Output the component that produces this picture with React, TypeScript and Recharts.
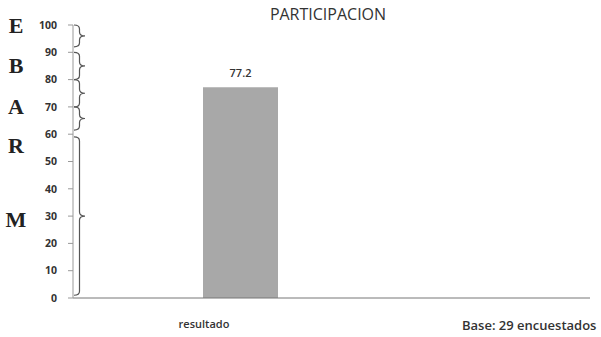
import React from "react";
import { BarChart, Bar, XAxis, YAxis, LabelList, ReferenceArea, ReferenceLine } from "recharts";

const categories = ["resultado"];
const values = [77.2];
const yTicks = [0, 10, 20, 30, 40, 50, 60, 70, 80, 90, 100];
// braces drawn next to the y axis (from, to)
const braces = [
  { from: 100, to: 92 },
  { from: 90, to: 80 },
  { from: 80, to: 70 },
  { from: 70, to: 61.5 },
  { from: 59, to: 1 },
];
const letters = [
  { letter: "E", at: 100 },
  { letter: "B", at: 85 },
  { letter: "A", at: 70 },
  { letter: "R", at: 56 },
  { letter: "M", at: 28.6 },
];

const data = categories.map((name, i) => ({ name, value: values[i] }));

const sans = "'Open Sans', 'Noto Sans', sans-serif";

const braceShape = (props: any) => {
  const { y, height } = props;
  const x0 = 74;
  const w = 11;
  const y1 = y;
  const y2 = y + height;
  const mid = (y1 + y2) / 2;
  const r = Math.min(4, height / 4);
  const xm = x0 + w / 2;
  const d = `M${x0},${y1} Q${xm},${y1} ${xm},${y1 + r} L${xm},${mid - r} Q${xm},${mid} ${x0 + w},${mid} Q${xm},${mid} ${xm},${mid + r} L${xm},${y2 - r} Q${xm},${y2} ${x0},${y2}`;
  return <path d={d} fill="none" stroke="#555" strokeWidth={1.2} />;
};

const XTick = (props: any) => {
  const { x, y, payload } = props;
  return (
    <text x={x - 36} y={y + 22} textAnchor="middle" fontSize={11} fontWeight={600} fill="#333" fontFamily={sans}>
      {payload.value}
    </text>
  );
};

export default function App() {
  return (
    <div style={{ position: "absolute", left: 0, top: 0, width: 601, height: 337, background: "#fff" }}>
      <div
        style={{
          position: "absolute",
          left: 0,
          width: 656,
          top: 3,
          textAlign: "center",
          fontFamily: sans,
          fontSize: 16,
          color: "#333",
        }}
      >
        PARTICIPACION
      </div>
      <div
        style={{
          position: "absolute",
          left: 462,
          top: 316,
          fontFamily: sans,
          fontSize: 13,
          fontWeight: 600,
          color: "#333",
        }}
      >
        Base: 29 encuestados
      </div>
      <BarChart width={601} height={337} data={data} margin={{ top: 25, right: 11, left: 0, bottom: 9 }}>
        <XAxis
          dataKey="name"
          height={30}
          tickLine={false}
          tick={<XTick />}
          stroke="#777"
          padding={{ left: 92, right: 275 }}
        />
        <YAxis
          width={73}
          domain={[0, 100]}
          ticks={yTicks}
          interval={0}
          tickSize={5}
          tickMargin={11}
          stroke="#999"
          tick={{ fontSize: 10.5, fill: "#333", fontWeight: 700, fontFamily: sans }}
        />
        {braces.map((b, i) => (
          <ReferenceArea key={`brace-${i}`} y1={b.from} y2={b.to} shape={braceShape} ifOverflow="visible" />
        ))}
        {letters.map((l) => (
          <ReferenceLine
            key={l.letter}
            y={l.at}
            stroke="none"
            label={(p: any) => (
              <text
                x={16}
                y={p.viewBox.y}
                dy={7.5}
                textAnchor="middle"
                fontSize={22}
                fontWeight={700}
                fontFamily="'Liberation Serif', 'DejaVu Serif', serif"
                fill="#222"
              >
                {l.letter}
              </text>
            )}
          />
        ))}
        <Bar dataKey="value" fill="#a8a8a8" barSize={75} isAnimationActive={false}>
          <LabelList
            dataKey="value"
            position="top"
            offset={10}
            fontSize={11}
            fontWeight={600}
            fill="#333"
            fontFamily={sans}
          />
        </Bar>
      </BarChart>
    </div>
  );
}
